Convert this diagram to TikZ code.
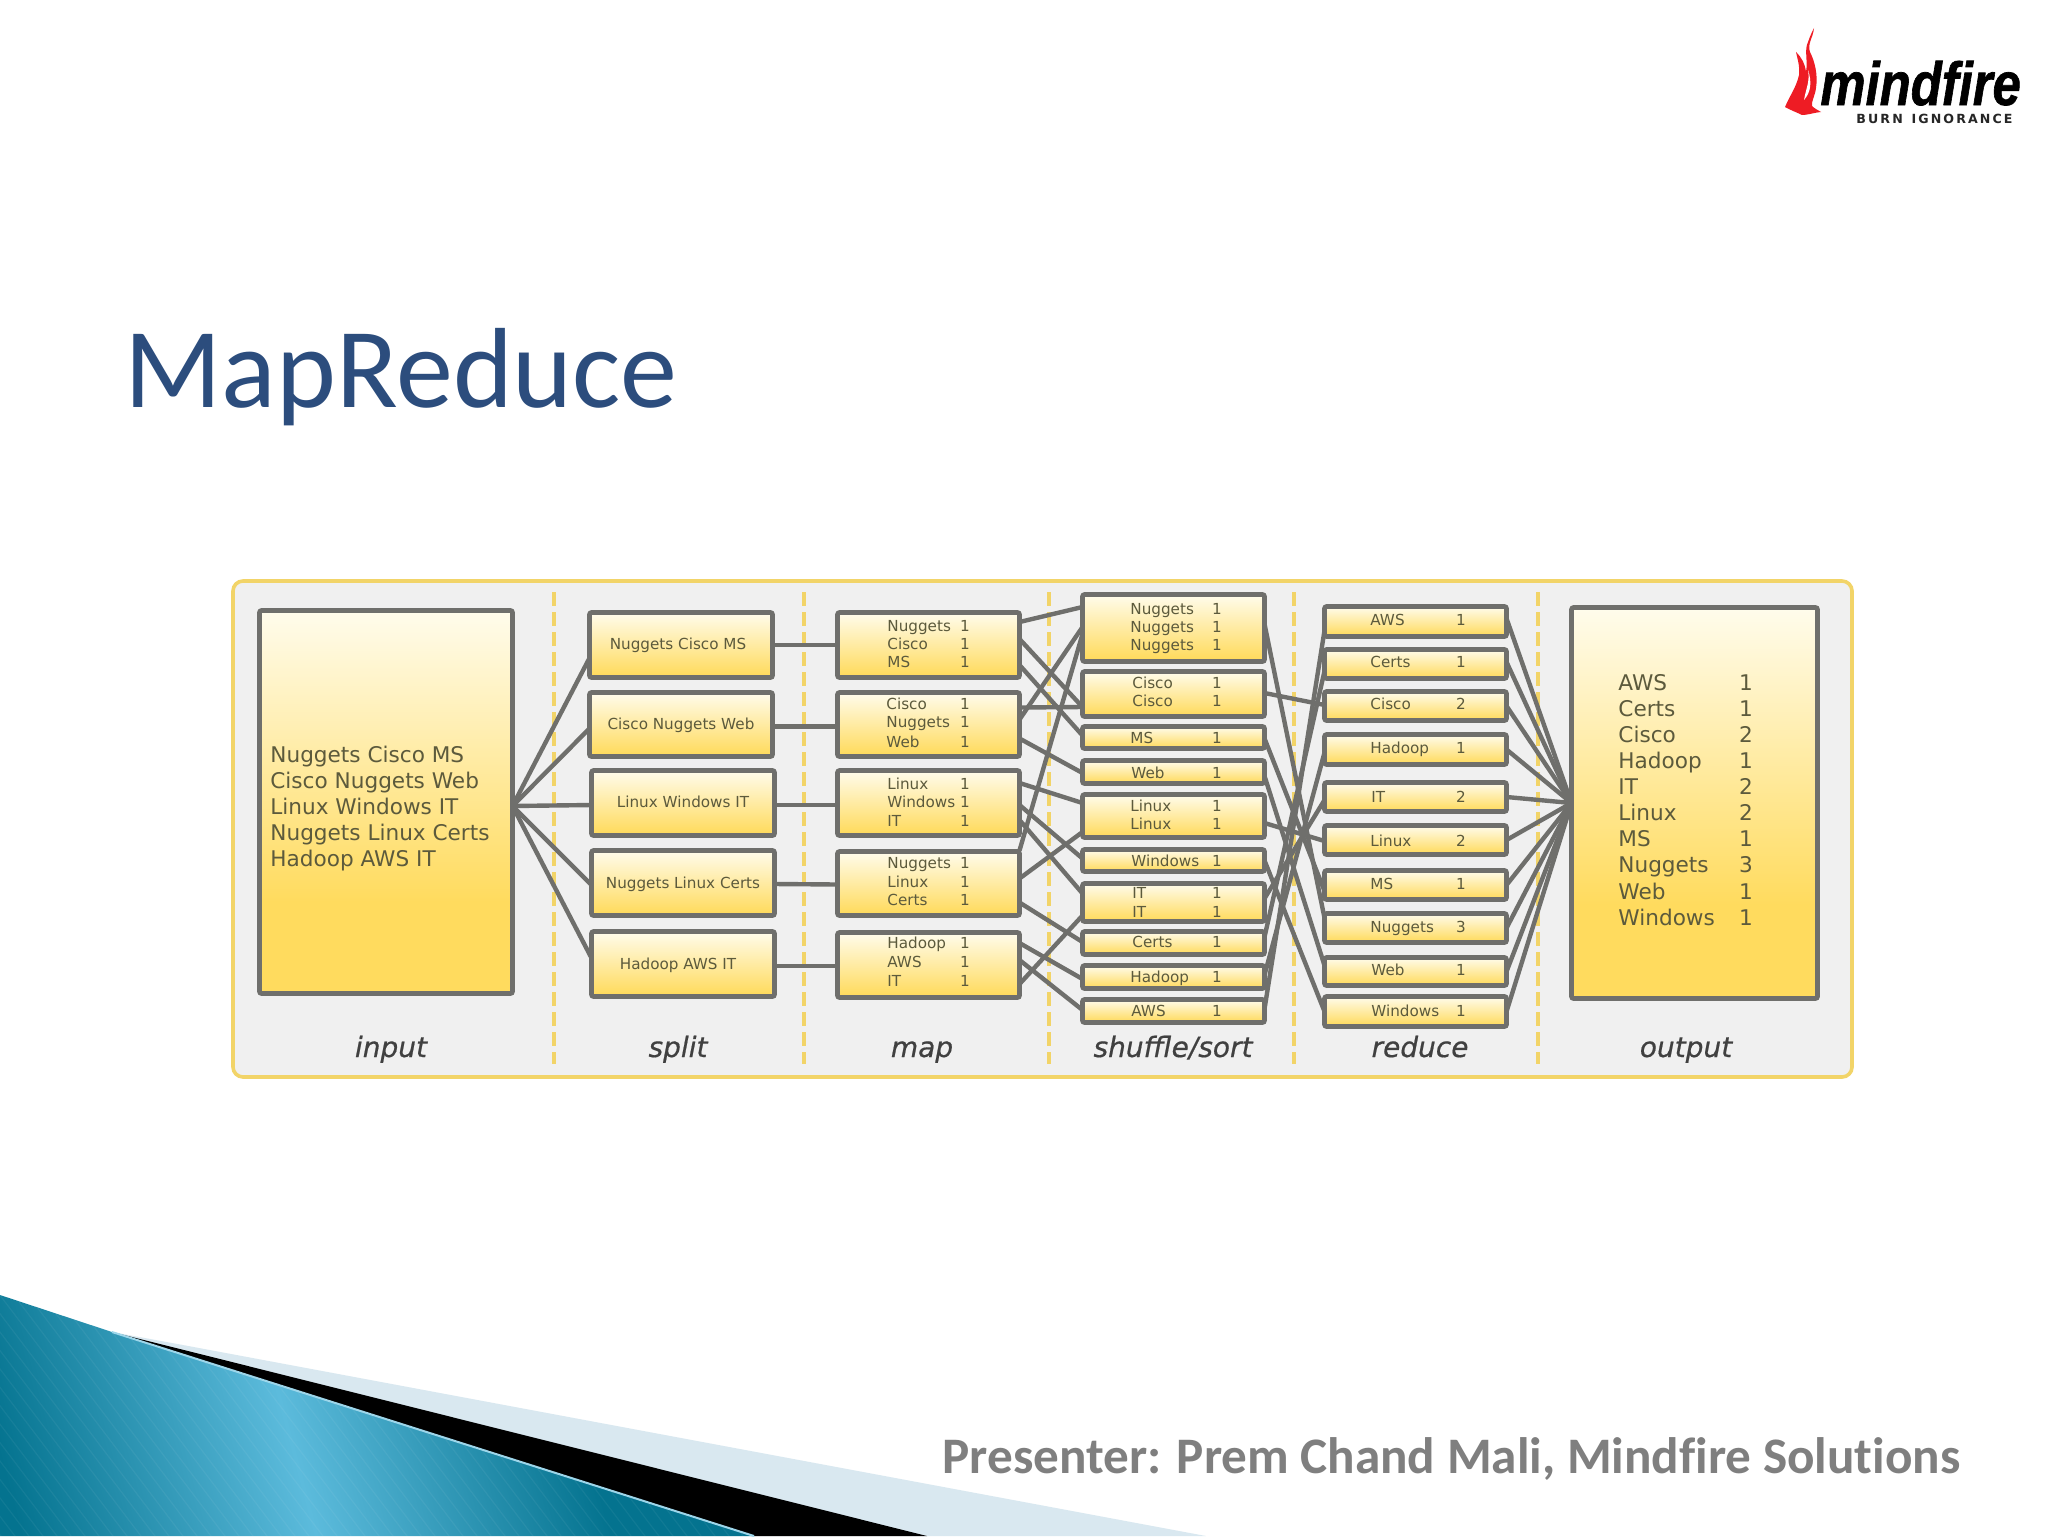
\documentclass[tikz,border=0pt]{standalone}
\usepackage{fontspec}
\setmainfont{DejaVu Sans}
\newfontfamily\carlitofont[Ligatures=NoCommon]{Carlito}
\newfontfamily\logofont[FakeBold=1.2]{Liberation Sans}
\newfontfamily\capfont[ItalicFeatures={FakeBold=0.6}]{DejaVu Sans}
\usetikzlibrary{calc}
\definecolor{wireg}{HTML}{6F6F6C}
\definecolor{boxtop}{HTML}{FFFCEC}
\definecolor{boxbot}{HTML}{FFDB5E}
\definecolor{txtc}{HTML}{5C5A3C}
\definecolor{framey}{HTML}{F2D468}
\definecolor{framebg}{HTML}{F0F0F0}
\definecolor{titleblue}{HTML}{2C4D7D}
\definecolor{presg}{HTML}{7F7F7F}
\definecolor{tealdark}{HTML}{04738F}
\definecolor{teallight}{HTML}{5CBBDC}
\definecolor{palebl}{HTML}{D9E8F0}
\definecolor{flame}{HTML}{EE1C24}
\pgfdeclareverticalshading{bigshade}{100bp}{color(0bp)=(boxbot);color(37bp)=(boxbot);color(75bp)=(boxtop);color(100bp)=(boxtop)}
\pgfdeclareverticalshading{smallshade}{100bp}{color(0bp)=(boxbot);color(27bp)=(boxbot);color(75bp)=(boxtop);color(100bp)=(boxtop)}
\pgfdeclarehorizontalshading{tealband}{100bp}{color(0bp)=(tealdark);color(37bp)=(tealdark);color(50bp)=(teallight);color(63bp)=(tealdark);color(100bp)=(tealdark)}
\tikzset{
  flowbox/.style={draw=wireg,line width=2.3pt,shading=smallshade,
    inner sep=0pt,outer sep=0pt,rounded corners=1pt},
  bigbox/.style={flowbox,shading=bigshade},
  wire/.style={draw=wireg,line width=2.2pt},
  sep/.style={draw=framey,line width=1.6pt,dash pattern=on 7pt off 3pt},
  smalltxt/.style={font=\fontsize{7.6}{9}\selectfont,text=txtc,inner sep=0pt,text height=5.8pt,text depth=0pt},
  bigtxt/.style={font=\fontsize{10.8}{13}\selectfont,text=txtc,inner sep=0pt,text height=8.2pt,text depth=0pt},
  caption/.style={font=\capfont\itshape\fontsize{14}{16}\selectfont,text=black!75,inner sep=0pt,text height=10pt,text depth=3pt},
}
\newcommand{\bx}[6][flowbox]{\node[#1,minimum width={(#5-#3-1)*0.5pt},minimum height={(#6-#4-1)*0.5pt}] (#2) at ({(#3+#5)/2},{(#4+#6)/2}) {};}
\newcommand{\pr}[6]{\node[smalltxt,anchor=west] (#1l) at (#2,#4) {#5};\node[smalltxt] (#1n) at (#3,#4) {#6};}
\newcommand{\bpr}[4]{\node[bigtxt,anchor=west] (#1l) at (1618,#2) {#3};\node[bigtxt] (#1n) at (1746,#2) {#4};}
\newcommand{\cn}[4]{\draw[wire] ($(#1.east)+(0,#2)$) -- ($(#3.west)+(0,#4)$);}
\begin{document}
\begin{tikzpicture}[x=0.5pt,y=-0.5pt]
\useasboundingbox (0,0) rectangle (2048,1536);
\fill[white] (0,0) rectangle (2048,1536);
% corner graphic
\fill[palebl] (112,1332) -- (183,1345) -- (1206,1536) -- (700,1536) -- cycle;
\fill[black] (112,1332) -- (927,1536) -- (754,1536) -- cycle;
\newcommand{\tealpath}{(0,1295) -- (112,1332) -- (754,1536) -- (0,1536) -- cycle}
\begin{scope}
\clip \tealpath;
\shade[shading=tealband,shading angle=15] (-230,1000) rectangle (870,2100);
\foreach \k in {-200,-186,...,760}{\draw[white,opacity=.05,line width=.6pt] (\k,1290) -- ({\k+190},1540);}
\end{scope}
\draw[teallight!60!white,line width=1pt] (112,1332) -- (754,1536);
% title and footer
\node[font=\carlitofont\fontsize{57}{62}\selectfont,text=titleblue,anchor=base west,inner sep=0pt] (title) at (124,407) {MapReduce};
\node[font=\carlitofont\bfseries\fontsize{25.6}{29}\selectfont,text=presg,anchor=base west,inner sep=0pt] (presenter) at (942,1473) {Presenter: Prem Chand Mali, Mindfire Solutions};
% logo
\fill[flame] (1785,107) .. controls (1790,95) and (1796,88) .. (1799,75) .. controls (1800,65) and (1797,58) .. (1796,52)
  .. controls (1802,58) and (1805,64) .. (1806,72) .. controls (1808,60) and (1804,50) .. (1808,42) .. controls (1810,36) and (1812,32) .. (1814,28)
  .. controls (1813,38) and (1807,44) .. (1810,52) .. controls (1815,62) and (1818,75) .. (1816,88) .. controls (1815,96) and (1811,102) .. (1812,106)
  .. controls (1815,109) and (1818,110) .. (1821,112) .. controls (1812,113) and (1808,115) .. (1802,115) .. controls (1796,112) and (1790,110) .. (1785,107) -- cycle;
\fill[white] (1804,100) .. controls (1806,88) and (1810,82) .. (1808,70) .. controls (1812,82) and (1811,92) .. (1804,100) -- cycle;
\node[text=black,anchor=base west,inner sep=0pt] (logotext) at (1820,105) {\scalebox{1}[1.2]{\logofont\bfseries\itshape\fontsize{25.4}{28}\selectfont mindfire}};
\node[font=\bfseries\fontsize{6.3}{7}\selectfont,text=black!85,anchor=base west,inner sep=0pt] (logosub) at (1856,124) {B\,U\,R\,N\ \ I\,G\,N\,O\,R\,A\,N\,C\,E};
% frame
\draw[framey,fill=framebg,line width=1.8pt,rounded corners=5pt] (233,581) rectangle (1852,1077);
\foreach \x in {554,804,1049,1294,1538}{\draw[sep] (\x,592) -- (\x,1064);}
% boxes
\bx[bigbox]{inp}{259}{610}{513}{994}
\bx{sa}{589}{612}{773}{678}
\bx{sb}{589}{692}{773}{757}
\bx{sc}{591}{770}{775}{836}
\bx{sd}{591}{850}{775}{916}
\bx{se}{591}{931}{775}{997}
\bx{ma}{837}{612}{1020}{678}
\bx{mb}{837}{692}{1020}{757}
\bx{mc}{837}{770}{1020}{836}
\bx{md}{837}{851}{1020}{916}
\bx{me}{837}{932}{1020}{998}
\bx{ua}{1082}{594}{1265}{662}
\bx{ub}{1082}{671}{1265}{717}
\bx{uc}{1082}{726}{1265}{749}
\bx{ud}{1082}{760}{1265}{784}
\bx{ue}{1082}{794}{1265}{838}
\bx{uf}{1082}{849}{1265}{872}
\bx{ug}{1082}{883}{1265}{922}
\bx{uh}{1082}{931}{1265}{955}
\bx{ui}{1082}{965}{1265}{989}
\bx{uj}{1082}{999}{1265}{1023}
\bx{ra}{1324}{606}{1507}{637}
\bx{rb}{1324}{649}{1507}{679}
\bx{rc}{1324}{691}{1507}{721}
\bx{rd}{1324}{734}{1507}{765}
\bx{re}{1324}{782}{1507}{812}
\bx{rf}{1324}{825}{1507}{855}
\bx{rg}{1324}{870}{1507}{900}
\bx{rh}{1324}{913}{1507}{943}
\bx{ri}{1324}{957}{1507}{986}
\bx{rj}{1324}{996}{1507}{1027}
\bx[bigbox]{out}{1571}{607}{1818}{999}
% input text
\foreach \n/\y/\t in {a/754/Nuggets Cisco MS,b/780/Cisco Nuggets Web,c/806/Linux Windows IT,d/832/Nuggets Linux Certs,e/858/Hadoop AWS IT}{
  \node[bigtxt,anchor=west] (in\n) at (270,\y) {\t};}
% split text
\node[smalltxt] (sat) at (678,644) {Nuggets Cisco MS};
\node[smalltxt] (sbt) at (681,724) {Cisco Nuggets Web};
\node[smalltxt] (sct) at (683,802) {Linux Windows IT};
\node[smalltxt] (sdt) at (683,883) {Nuggets Linux Certs};
\node[smalltxt] (set) at (678,964) {Hadoop AWS IT};
% map text
\pr{ma1}{887}{965}{626}{Nuggets}{1}\pr{ma2}{887}{965}{644}{Cisco}{1}\pr{ma3}{887}{965}{662}{MS}{1}
\pr{mb1}{886}{965}{704}{Cisco}{1}\pr{mb2}{886}{965}{722}{Nuggets}{1}\pr{mb3}{886}{965}{742}{Web}{1}
\pr{mc1}{887}{965}{784}{Linux}{1}\pr{mc2}{887}{965}{802}{Windows}{1}\pr{mc3}{887}{965}{821}{IT}{1}
\pr{md1}{887}{965}{863}{Nuggets}{1}\pr{md2}{887}{965}{882}{Linux}{1}\pr{md3}{887}{965}{900}{Certs}{1}
\pr{me1}{887}{965}{943}{Hadoop}{1}\pr{me2}{887}{965}{962}{AWS}{1}\pr{me3}{887}{965}{981}{IT}{1}
% shuffle text
\pr{ua1}{1130}{1217}{609}{Nuggets}{1}\pr{ua2}{1130}{1217}{627}{Nuggets}{1}\pr{ua3}{1130}{1217}{645}{Nuggets}{1}
\pr{ub1}{1132}{1217}{683}{Cisco}{1}\pr{ub2}{1132}{1217}{701}{Cisco}{1}
\pr{uc1}{1130}{1217}{738}{MS}{1}
\pr{ud1}{1131}{1217}{773}{Web}{1}
\pr{ue1}{1130}{1217}{806}{Linux}{1}\pr{ue2}{1130}{1217}{824}{Linux}{1}
\pr{uf1}{1131}{1217}{861}{Windows}{1}
\pr{ug1}{1132}{1217}{893}{IT}{1}\pr{ug2}{1132}{1217}{912}{IT}{1}
\pr{uh1}{1132}{1217}{942}{Certs}{1}
\pr{ui1}{1130}{1217}{977}{Hadoop}{1}
\pr{uj1}{1131}{1217}{1011}{AWS}{1}
% reduce text
\pr{ra1}{1370}{1461}{620}{AWS}{1}
\pr{rb1}{1370}{1461}{662}{Certs}{1}
\pr{rc1}{1370}{1461}{704}{Cisco}{2}
\pr{rd1}{1370}{1461}{748}{Hadoop}{1}
\pr{re1}{1371}{1461}{797}{IT}{2}
\pr{rf1}{1370}{1461}{841}{Linux}{2}
\pr{rg1}{1370}{1461}{884}{MS}{1}
\pr{rh1}{1370}{1461}{927}{Nuggets}{3}
\pr{ri1}{1371}{1461}{970}{Web}{1}
\pr{rj1}{1371}{1461}{1011}{Windows}{1}
% output text
\bpr{oa}{682}{AWS}{1}\bpr{ob}{708}{Certs}{1}\bpr{oc}{734}{Cisco}{2}\bpr{od}{760}{Hadoop}{1}\bpr{oe}{786}{IT}{2}
\bpr{of}{812}{Linux}{2}\bpr{og}{838}{MS}{1}\bpr{oh}{864}{Nuggets}{3}\bpr{oi}{891}{Web}{1}\bpr{oj}{917}{Windows}{1}
% captions
\node[caption] (capa) at (391,1050) {input};
\node[caption] (capb) at (678,1050) {split};
\node[caption] (capc) at (922,1050) {map};
\node[caption] (capd) at (1173,1050) {shuffle/sort};
\node[caption] (cape) at (1420,1050) {reduce};
\node[caption] (capf) at (1686,1050) {output};
% input -> split
\cn{inp}{4}{sa}{13}
\cn{inp}{4}{sb}{4}
\cn{inp}{4}{sc}{2}
\cn{inp}{4}{sd}{2}
\cn{inp}{4}{se}{-6}
% split -> map
\cn{sa}{0}{ma}{0}
\cn{sb}{2}{mb}{2}
\cn{sc}{2}{mc}{2}
\cn{sd}{1}{md}{1}
\cn{se}{2}{me}{1}
% map -> shuffle
\cn{ma}{-23}{ua}{-21}
\cn{ma}{-6}{ub}{13}
\cn{ma}{20}{uc}{-2}
\cn{mb}{-17}{ub}{13}
\cn{mb}{-5}{ua}{-1}
\cn{mb}{14}{ud}{1}
\cn{mc}{-20}{ue}{-13}
\cn{mc}{2}{uf}{-2}
\cn{mc}{17}{ug}{-9}
\cn{md}{-33}{ua}{6}
\cn{md}{-5}{ue}{16}
\cn{md}{19}{uh}{-1}
\cn{me}{-22}{ui}{2}
\cn{me}{-5}{uj}{-1}
\cn{me}{19}{ug}{13}
% shuffle -> reduce
\cn{ua}{-4}{rh}{-10}
\cn{ub}{-1}{rc}{-1}
\cn{uc}{1}{rg}{6}
\cn{ud}{4}{ri}{-6}
\cn{ue}{7}{rf}{1}
\cn{uf}{0}{rj}{0}
\cn{ug}{-4}{re}{3}
\cn{uh}{-6}{rb}{7}
\cn{ui}{-2}{rd}{3}
\cn{uj}{-2}{ra}{9}
% reduce -> output
\cn{ra}{-3}{out}{0}
\cn{rb}{-2}{out}{0}
\cn{rc}{0}{out}{0}
\cn{rd}{0}{out}{0}
\cn{re}{0}{out}{0}
\cn{rf}{0}{out}{0}
\cn{rg}{0}{out}{0}
\cn{rh}{0}{out}{0}
\cn{ri}{0}{out}{0}
\cn{rj}{0}{out}{0}
\end{tikzpicture}
\end{document}
